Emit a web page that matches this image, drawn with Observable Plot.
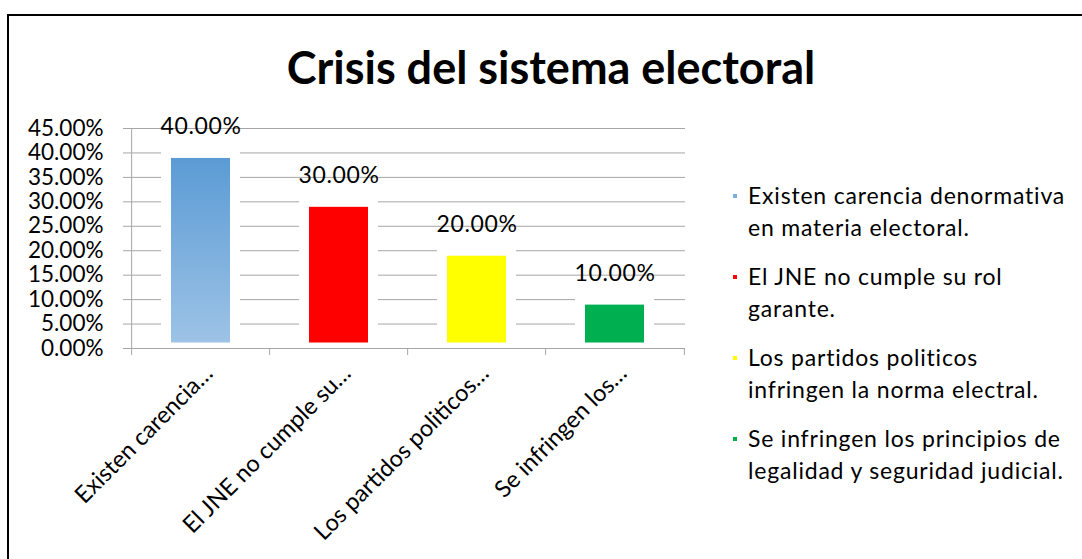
<!DOCTYPE html>
<html><head><meta charset="utf-8">
<script src="https://cdn.jsdelivr.net/npm/d3@7"></script>
<script src="https://cdn.jsdelivr.net/npm/@observablehq/plot@0.6"></script>
<style>
body{margin:0;background:#fff;overflow:hidden;}
#wrap{position:relative;width:1082px;height:559px;overflow:hidden;font-family:Lato,sans-serif;color:#000;}
#frame{position:absolute;left:7px;top:14px;width:1200px;height:700px;border:2px solid #000;box-sizing:border-box;}
#title{position:absolute;left:0;width:1102px;top:37px;text-align:center;font-weight:bold;font-size:45px;line-height:60px;}
#chart{position:absolute;left:0;top:0;}
#legend{position:absolute;left:733px;top:179px;font-size:23px;line-height:32px;letter-spacing:0.8px;}
.item{position:relative;padding-left:15px;margin-bottom:17px;white-space:nowrap;}
.sw{position:absolute;left:0;top:15px;width:4px;height:4px;}
.dl text{letter-spacing:0.6px;}
</style>
</head><body>
<div id="wrap">
  <div id="frame"></div>
  <div id="title"></div>
  <div id="chart"></div>
  <div id="legend"></div>
</div>
<script>
const titleText = "Crisis del sistema electoral";
const tickLabels = ["Existen carencia…", "El JNE no cumple su…", "Los partidos politicos…", "Se infringen los…"];
const legendLines = [
  ["Existen carencia denormativa", "en materia electoral."],
  ["El JNE no cumple su rol", "garante."],
  ["Los partidos politicos", "infringen la norma electral."],
  ["Se infringen los principios de", "legalidad y seguridad judicial."]
];
const values = [0.40, 0.30, 0.20, 0.10];
const barColors = ["url(#barGrad)", "#FF0000", "#FFFF00", "#00B050"];
const legendColors = ["#7EADDC", "#FF0000", "#FFFF00", "#00B050"];
const yTicks = [0, 0.05, 0.10, 0.15, 0.20, 0.25, 0.30, 0.35, 0.40, 0.45];

const data = tickLabels.map((label, i) => ({label, value: values[i], color: barColors[i]}));

const W = 1082, H = 559, mL = 130, mR = 397, mT = 128, mB = 211;
const bandStep = (W - mL - mR) / tickLabels.length;
const grid = "#a6a6a6";
const pct = d3.format(".2%");
const fs = 22.5;

const chart = Plot.plot({
  width: W, height: H,
  marginLeft: mL, marginRight: mR, marginTop: mT, marginBottom: mB,
  style: {fontFamily: "Lato, sans-serif", fontSize: fs + "px", color: "#000", background: "transparent", overflow: "visible"},
  x: {domain: tickLabels, paddingInner: 0.43, paddingOuter: 0.215, label: null},
  y: {domain: [0, 0.45], label: null},
  color: {type: "identity"},
  marks: [
    Plot.gridY(yTicks, {stroke: grid, strokeOpacity: 1}),
    Plot.barY(data, {x: "label", y: "value", fill: "white", insetTop: -1}),
    Plot.barY(data, {x: "label", y: "value", fill: "color", insetLeft: 10, insetRight: 10, insetTop: 5.5, insetBottom: 5.5}),
    Plot.ruleY([0], {stroke: grid}),
    Plot.ruleX([tickLabels[0]], {dx: -bandStep / 2, stroke: grid}),
    Plot.ruleX(tickLabels, {dx: -bandStep / 2, stroke: grid, insetTop: H - mT - mB, insetBottom: -7}),
    Plot.ruleX([tickLabels[tickLabels.length - 1]], {dx: bandStep / 2, stroke: grid, insetTop: H - mT - mB, insetBottom: -7}),
    Plot.axisY(yTicks, {tickFormat: pct, tickSize: 7, tickPadding: 20, stroke: grid, fill: "#000", fontSize: fs, label: null}),
    Plot.axisX({tickRotate: -45, tickSize: 0, tickPadding: 21, dx: 8, fontSize: 23.5, fill: "#000", label: null}),
    Plot.text(data, {x: "label", y: "value", text: d => pct(d.value), dy: -26, fontSize: 23, fill: "#000", className: "dl"})
  ]
});

// gradient for the first bar
const ns = "http://www.w3.org/2000/svg";
const defs = document.createElementNS(ns, "defs");
defs.innerHTML = '<linearGradient id="barGrad" x1="0" y1="0" x2="0" y2="1"><stop offset="0" stop-color="#5B9BD5"/><stop offset="1" stop-color="#9DC3E6"/></linearGradient>';
chart.insertBefore(defs, chart.firstChild);
document.getElementById("chart").appendChild(chart);

document.getElementById("title").textContent = titleText;
const legend = d3.select("#legend");
legendLines.forEach((lines, i) => {
  const it = legend.append("div").attr("class", "item");
  it.append("div").attr("class", "sw").style("background", legendColors[i]);
  lines.forEach((l, j) => { if (j) it.append("br"); it.append("span").text(l); });
});
</script>
</body></html>
